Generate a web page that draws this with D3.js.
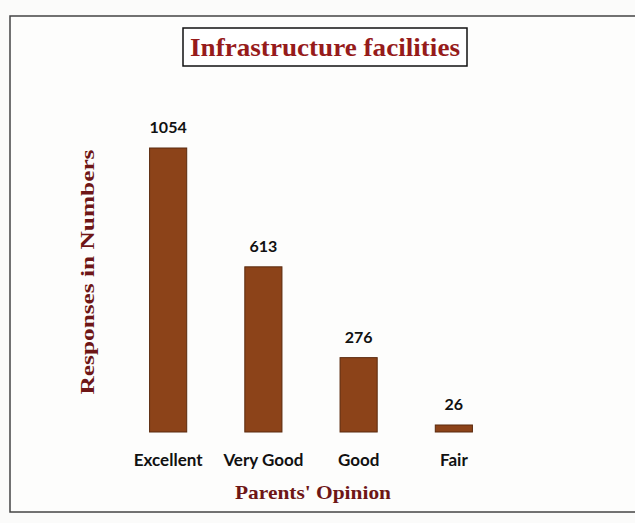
<!DOCTYPE html>
<html>
<head>
<meta charset="utf-8">
<script src="https://cdn.jsdelivr.net/npm/d3@7"></script>
<style>
  body { margin: 0; background: #fbfbfa; }
  svg { display: block; }
</style>
</head>
<body>
<svg id="chart" width="635" height="523"></svg>
<script>
// Chart data
const categories = ["Excellent", "Very Good", "Good", "Fair"];
const responses = [1054, 613, 276, 26];

const svg = d3.select("#chart");

// Outer frame
svg.append("rect")
    .attr("x", 10).attr("y", 16)
    .attr("width", 640).attr("height", 496)
    .attr("fill", "#fdfdfc")
    .attr("stroke", "#444").attr("stroke-width", 1.5);

// Scales
const x = d3.scaleBand()
    .domain(categories)
    .range([121, 501])
    .paddingInner(0.61)
    .paddingOuter(0.3);

const y = d3.scaleLinear()
    .domain([0, 1054])
    .range([432, 148]);

// Bars
svg.selectAll(".bar")
    .data(categories)
    .enter().append("rect")
    .attr("class", "bar")
    .attr("x", d => x(d))
    .attr("y", (d, i) => y(responses[i]))
    .attr("width", x.bandwidth())
    .attr("height", (d, i) => y(0) - y(responses[i]))
    .attr("fill", "#8c4319")
    .attr("stroke", "#5b2a0e")
    .attr("stroke-width", 1);

// Value labels
svg.selectAll(".val")
    .data(categories)
    .enter().append("text")
    .attr("class", "val")
    .attr("x", d => x(d) + x.bandwidth() / 2)
    .attr("y", (d, i) => y(responses[i]) - 15)
    .attr("text-anchor", "middle")
    .style("font-family", "Lato, 'Open Sans', sans-serif")
    .style("font-weight", "bold")
    .style("font-size", "16px")
    .attr("fill", "#111")
    .text((d, i) => responses[i]);

// Category axis (no line, no ticks)
const xAxis = svg.append("g")
    .attr("transform", "translate(0,453)")
    .call(d3.axisBottom(x).tickSize(0).tickPadding(0));
xAxis.select(".domain").remove();
xAxis.selectAll("text")
    .style("font-family", "Lato, 'Open Sans', sans-serif")
    .style("font-weight", "bold")
    .style("font-size", "17px")
    .attr("fill", "#111")
    .attr("dy", "0.75em");

// Title box
svg.append("rect")
    .attr("x", 183).attr("y", 28)
    .attr("width", 284).attr("height", 38)
    .attr("fill", "#fff")
    .attr("stroke", "#111").attr("stroke-width", 1.5);

svg.append("text")
    .attr("x", 325).attr("y", 56)
    .attr("text-anchor", "middle")
    .attr("textLength", 270)
    .attr("lengthAdjust", "spacingAndGlyphs")
    .style("font-family", "'Liberation Serif', 'DejaVu Serif', serif")
    .style("font-weight", "bold")
    .style("font-size", "25px")
    .attr("fill", "#961b1b")
    .text("Infrastructure facilities");

// Axis titles
svg.append("text")
    .attr("x", 313).attr("y", 499)
    .attr("text-anchor", "middle")
    .attr("textLength", 156)
    .attr("lengthAdjust", "spacingAndGlyphs")
    .style("font-family", "'Liberation Serif', serif")
    .style("font-weight", "bold")
    .style("font-size", "19px")
    .attr("fill", "#6e1616")
    .text("Parents' Opinion");

svg.append("text")
    .attr("transform", "translate(94,272) rotate(-90)")
    .attr("text-anchor", "middle")
    .attr("textLength", 245)
    .attr("lengthAdjust", "spacingAndGlyphs")
    .style("font-family", "'Liberation Serif', serif")
    .style("font-weight", "bold")
    .style("font-size", "19px")
    .attr("fill", "#6e1616")
    .text("Responses in Numbers");
</script>
</body>
</html>
